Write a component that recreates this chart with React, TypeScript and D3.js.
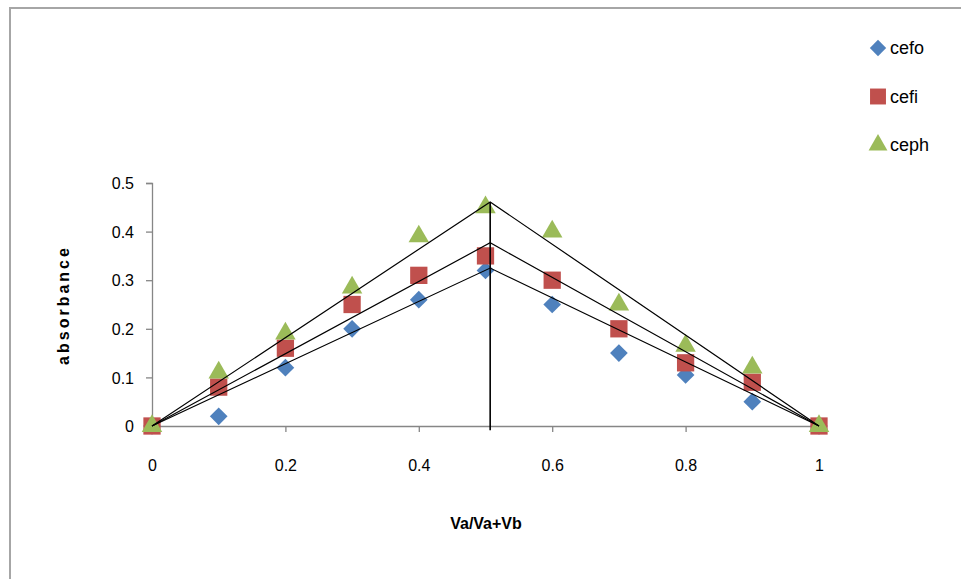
import * as d3 from 'd3';
import { useEffect, useRef } from 'react';

const xValues = [0, 0.1, 0.2, 0.3, 0.4, 0.5, 0.6, 0.7, 0.8, 0.9, 1];
const cefo = [0, 0.02, 0.12, 0.2, 0.26, 0.32, 0.25, 0.15, 0.105, 0.05, 0];
const cefi = [0, 0.08, 0.16, 0.25, 0.31, 0.35, 0.3, 0.2, 0.13, 0.09, 0];
const ceph = [0, 0.11, 0.19, 0.285, 0.39, 0.45, 0.4, 0.25, 0.165, 0.12, 0];
// fitted triangle lines (Job's plot): apex x and apex heights
const apexX = 0.507;
const linePeaks = [0.325, 0.377, 0.461];
const xTicks = [0, 0.2, 0.4, 0.6, 0.8, 1];
const yTicks = [0, 0.1, 0.2, 0.3, 0.4, 0.5];

const seriesNames = ['cefo', 'cefi', 'ceph'];
const colors = ['#4F81BD', '#C0504D', '#9BBB59'];
const symbols = [d3.symbolDiamond2, d3.symbolSquare2, d3.symbolTriangle2];
const symbolSizes = [200, 380, 300];

function App() {
  const svgRef = useRef<SVGSVGElement>(null);

  useEffect(() => {
    const w = 961;
    const h = 579;
    const svg = d3.select(svgRef.current);
    svg.selectAll('*').remove();

    const font = '"Liberation Sans", Arial, sans-serif';

    // outer chart border
    svg.append('rect')
      .attr('x', 10).attr('y', 8)
      .attr('width', w).attr('height', h)
      .attr('fill', '#fff')
      .attr('stroke', '#a6a6a6')
      .attr('stroke-width', 2);

    const x = d3.scaleLinear().domain([0, 1]).range([152, 819]);
    const y = d3.scaleLinear().domain([0, 0.5]).range([426, 183]);

    const axisColor = '#868686';

    const yAxis = svg.append('g')
      .attr('transform', `translate(${x(0)},0)`)
      .call(d3.axisLeft(y).tickValues(yTicks).tickSize(6).tickPadding(12)
        .tickFormat(d => d3.format('')(+d)));
    const xAxis = svg.append('g')
      .attr('transform', `translate(0,${y(0)})`)
      .call(d3.axisBottom(x).tickValues(xTicks).tickSize(6).tickPadding(28)
        .tickFormat(d => d3.format('')(+d)));

    [xAxis, yAxis].forEach(g => {
      g.select('.domain').attr('stroke', axisColor).attr('stroke-width', 1.3);
      g.selectAll('.tick line').attr('stroke', axisColor).attr('stroke-width', 1.3);
      g.selectAll('.tick text')
        .attr('fill', '#000')
        .style('font-family', font)
        .style('font-size', '16px');
    });
    xAxis.selectAll('.tick line').filter((d: any) => d === 0 || d === 1).remove();
    yAxis.selectAll('.tick text').attr('dy', '0.35em');

    // axis titles
    svg.append('text')
      .attr('x', 486).attr('y', 529)
      .attr('text-anchor', 'middle')
      .style('font-family', font).style('font-size', '16px').style('font-weight', 'bold')
      .text('Va/Va+Vb');
    svg.append('text')
      .attr('transform', `translate(69,305) rotate(-90)`)
      .attr('text-anchor', 'middle')
      .style('font-family', font).style('font-size', '16px').style('font-weight', 'bold')
      .style('letter-spacing', '3px')
      .text('absorbance');

    // markers
    const allSeries = [cefo, cefi, ceph];
    allSeries.forEach((vals, si) => {
      svg.append('g')
        .selectAll('path')
        .data(vals)
        .join('path')
        .attr('transform', (v, i) => `translate(${x(xValues[i])},${y(v)})`)
        .attr('d', d3.symbol().type(symbols[si]).size(symbolSizes[si])())
        .attr('fill', colors[si]);
    });

    // fitted lines
    const line = d3.line<[number, number]>().x(d => x(d[0])).y(d => y(d[1]));
    linePeaks.forEach(p => {
      svg.append('path')
        .datum([[0, 0], [apexX, p], [1, 0]] as [number, number][])
        .attr('d', line)
        .attr('fill', 'none')
        .attr('stroke', '#000')
        .attr('stroke-width', 1.2);
    });
    svg.append('path')
      .datum([[apexX, d3.max(linePeaks)!], [apexX, -0.009]] as [number, number][])
      .attr('d', line)
      .attr('stroke', '#000')
      .attr('stroke-width', 1.6);

    // legend
    const legend = svg.append('g');
    seriesNames.forEach((name, i) => {
      const ly = 48 + i * 48.5;
      legend.append('path')
        .attr('transform', `translate(878,${ly})`)
        .attr('d', d3.symbol().type(symbols[i]).size(symbolSizes[i] * 0.85)())
        .attr('fill', colors[i]);
      legend.append('text')
        .attr('x', 890).attr('y', ly)
        .attr('dy', '0.35em')
        .style('font-family', font).style('font-size', '18px')
        .text(name);
    });
  }, []);

  return (
    <div>
      <svg ref={svgRef} width={961} height={579}
        style={{ position: 'absolute', left: 0, top: 0 }}></svg>
    </div>
  );
}

export default App;
